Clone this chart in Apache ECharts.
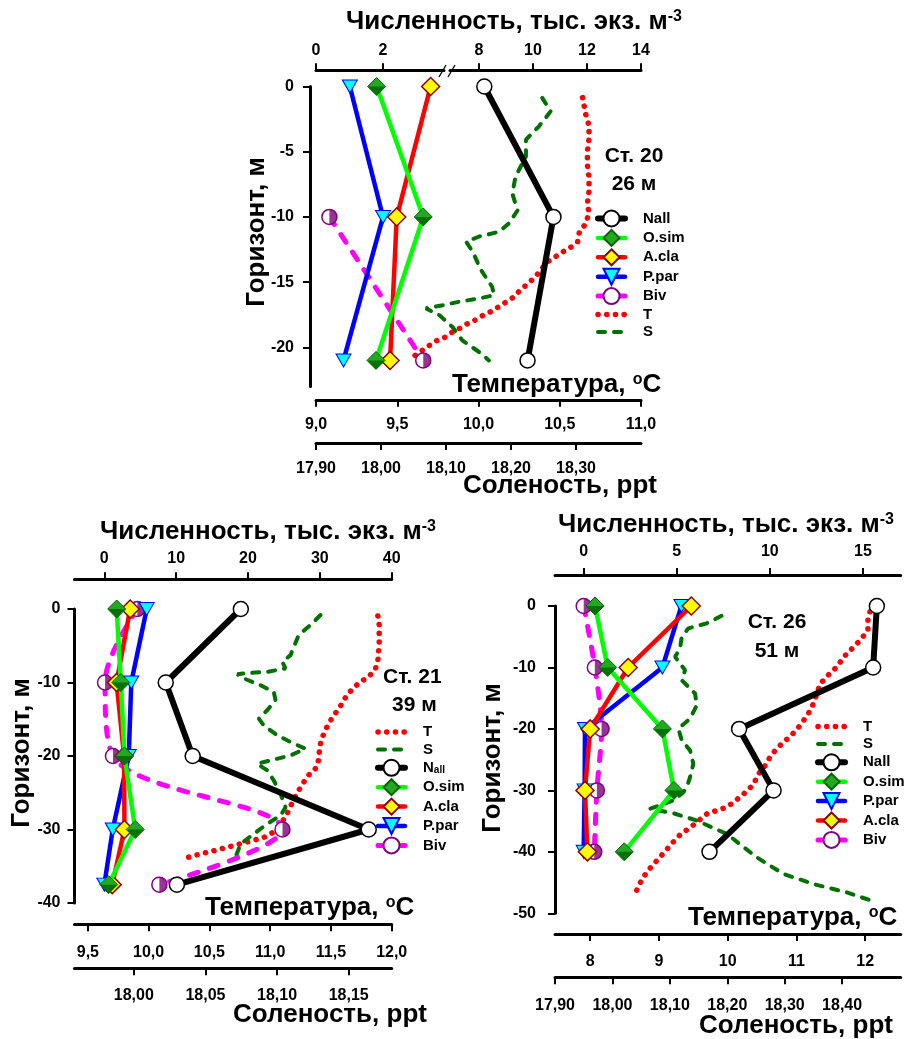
<!DOCTYPE html>
<html><head><meta charset="utf-8">
<script src="https://cdn.jsdelivr.net/npm/echarts@6/dist/echarts.min.js"></script>
<style>html,body{margin:0;padding:0;background:#fff}#c{width:921px;height:1039px}</style>
</head><body><div id="c"></div>
<script>
// ===== Station 20 (26 m) =====
const depth20 = [0, -10, -21];
const nall20 = [8.2, 10.76, 9.8];
const osim20 = [1.81, 3.2, 1.79];
const acla20 = [3.42, 2.41, 2.21];
const ppar20 = [1.01, 2.0, 0.82];
const bivDepth20 = [-10, -21];
const biv20 = [0.4, 3.2];
const tDepth20 = [-0.85,-2.15,-3,-4,-5,-6,-7,-8,-9,-9.7,-10.5,-11.2,-11.9,-12.3,-12.67,-13,-13.4,-13.95,-14.6,-15.15,-15.7,-16.2,-16.6,-17.0,-17.3,-17.6,-17.9,-18.2,-18.5,-18.9,-19.25,-19.5,-20,-20.7];
const temp20 = [10.64,10.66,10.68,10.68,10.67,10.67,10.68,10.68,10.67,10.68,10.66,10.62,10.61,10.57,10.52,10.48,10.43,10.39,10.35,10.30,10.25,10.21,10.16,10.11,10.07,10.02,9.98,9.93,9.89,9.83,9.79,9.74,9.68,9.60];
const sDepth20 = [-0.87,-1.9,-3.05,-4.08,-5.36,-6.9,-8.2,-9.5,-10.48,-11.13,-11.5,-11.9,-12.67,-14.08,-15.36,-16.0,-16.25,-16.5,-16.77,-17.0,-17.54,-18.44,-19.46,-20.36,-21.0];
const sal20 = [18.248,18.261,18.243,18.223,18.223,18.207,18.202,18.21,18.197,18.182,18.151,18.131,18.141,18.154,18.171,18.174,18.151,18.12,18.095,18.069,18.09,18.11,18.125,18.151,18.166];

// ===== Station 21 (39 m) =====
const depth21 = [0, -10, -20, -30, -37.5];
const nall21 = [19.0, 8.55, 12.3, 36.8, 10.1];
const osim21 = [1.72, 2.3, 2.8, 4.3, 0.6];
const acla21 = [3.6, 1.7, 2.75, 2.8, 1.1];
const ppar21 = [5.9, 3.75, 3.4, 1.17, 0];
const biv21 = [4.6, 0.1, 1.2, 24.8, 7.66];
const tDepth21 = [-0.95,-2.18,-3.41,-4.68,-5.83,-7.05,-8.23,-9.24,-9.92,-10.82,-11.73,-13.1,-14.23,-15.38,-16.5,-17.9,-19.2,-20.5,-21.5,-22.6,-23.9,-25.1,-26.4,-27.9,-29.0,-30.4,-31.1,-31.4,-31.7,-32.0,-32.3,-32.6,-32.9,-33.2,-33.5,-33.8];
const temp21 = [11.886,11.897,11.897,11.897,11.891,11.886,11.864,11.809,11.741,11.681,11.631,11.582,11.535,11.488,11.453,11.418,11.406,11.398,11.385,11.316,11.262,11.22,11.18,11.138,11.097,11.023,10.946,10.878,10.81,10.741,10.673,10.604,10.535,10.459,10.385,10.322];
const sDepth21 = [-0.82,-2.18,-3.55,-5.14,-6.28,-7.19,-8.09,-8.55,-8.69,-8.87,-9.45,-10.37,-11.28,-12.41,-13.78,-14.91,-15.83,-17.19,-18.32,-19.0,-19.92,-20.6,-21.05,-21.96,-23.33,-25.14,-26.97,-28.1,-29.24,-30.6,-31.97,-33.8];
const sal21 = [18.1303,18.1233,18.1151,18.1117,18.1094,18.1036,18.1059,18.0931,18.0814,18.0722,18.0768,18.0884,18.0977,18.0989,18.0931,18.0872,18.0907,18.1001,18.1117,18.1198,18.1094,18.0954,18.0861,18.0931,18.0977,18.1024,18.1059,18.1024,18.0931,18.0837,18.0745,18.071];

// ===== Station 26 (51 m) =====
const depth26 = [0, -10, -20, -30, -40];
const nall26 = [15.75, 15.55, 8.35, 10.2, 6.76];
const osim26 = [0.61, 1.29, 4.23, 4.85, 2.18];
const acla26 = [5.78, 2.39, 0.35, 0.07, 0.2];
const ppar26 = [5.25, 4.23, 0.07, 0.05, 0];
const biv26 = [0, 0.6, 0.96, 0.71, 0.57];
const tDepth26 = [-0.93,-2.28,-3.92,-5.55,-6.8,-8.27,-9.9,-11.26,-12.72,-14.2,-15.8,-17.2,-18.7,-20.2,-21.7,-23.1,-24.5,-25.9,-27.6,-29.0,-30.6,-31.9,-32.7,-33.2,-33.8,-34.9,-36.0,-37.2,-38.6,-39.8,-41.3,-42.8,-44.3,-45.9,-47.4];
const temp26 = [12.07,12.04,12.04,11.93,11.82,11.69,11.59,11.46,11.34,11.3,11.25,11.19,11.10,11.0,10.86,10.72,10.62,10.55,10.43,10.38,10.23,10.09,9.99,9.86,9.70,9.58,9.46,9.31,9.19,9.10,8.98,8.86,8.76,8.69,8.63];
const sDepth26 = [-1.6,-2.82,-3.64,-5.0,-6.9,-8.27,-10.44,-12.07,-14.24,-16.15,-18.32,-19.95,-21.86,-23.49,-25.66,-27.85,-29.48,-30.29,-31.65,-33.0,-33.72,-34.91,-37.08,-40.9,-43.6,-45.24,-46.6,-48.24];
const sal26 = [18.19,18.1643,18.1322,18.1207,18.1178,18.1091,18.1265,18.1207,18.1439,18.1469,18.1352,18.1148,18.1207,18.1352,18.1409,18.1352,18.1294,18.1235,18.1061,18.0655,18.1061,18.1469,18.1991,18.2514,18.2977,18.35,18.4082,18.4605];

// ===== tick labels =====
const ticksY20 = [0, -5, -10, -15, -20];
const ticksAbA20 = [0, 2];
const ticksAbB20 = [8, 10, 12, 14];
const ticksT20 = [9, 9.5, 10, 10.5, 11];
const ticksS20 = [17.9, 18.0, 18.1, 18.2, 18.3];
const ticksY21 = [0, -10, -20, -30, -40];
const ticksAb21 = [0, 10, 20, 30, 40];
const ticksT21 = [9.5, 10, 10.5, 11, 11.5, 12];
const ticksS21 = [18.0, 18.05, 18.1, 18.15];
const ticksY26 = [0, -10, -20, -30, -40, -50];
const ticksAb26 = [0, 5, 10, 15];
const ticksT26 = [8, 9, 10, 11, 12];
const ticksS26 = [17.9, 18.0, 18.1, 18.2, 18.3, 18.4];

const FF = 'Liberation Sans';
const TICK_FS = 16;
const comma = d => v => v.toFixed(d).replace('.', ',');
const pts = (xs, ys) => xs.map((x, i) => [x, ys[i]]);

function xAx(grid, pos, offset, min, max, vals, fmt, margin, show = true) {
  return {
    type: 'value', gridIndex: grid, position: pos, offset, min, max, show,
    axisLine: { show: true, onZero: false, lineStyle: { color: '#000', width: 3 } },
    axisTick: { show: true, inside: false, length: 7, customValues: vals, lineStyle: { color: '#000', width: 2 } },
    axisLabel: { show: true, margin, customValues: vals, formatter: fmt, fontFamily: FF, fontWeight: 'bold', fontSize: TICK_FS, color: '#000' },
    splitLine: { show: false }
  };
}
function yAx(grid, min, vals, margin, offset, show = true) {
  return {
    type: 'value', gridIndex: grid, min, max: 0, offset, show,
    axisLine: { show: true, onZero: false, lineStyle: { color: '#000', width: 3 } },
    axisTick: { show: true, inside: false, length: 7, customValues: vals, lineStyle: { color: '#000', width: 2 } },
    axisLabel: { show: true, margin, customValues: vals, fontFamily: FF, fontWeight: 'bold', fontSize: TICK_FS, color: '#000' },
    splitLine: { show: false }
  };
}

const series = [];
const NOFILL = { color: 'rgba(0,0,0,0)', borderWidth: 0 };
function tLine(name, xi, yi, xs, ys) {
  series.push({ name, type: 'line', xAxisIndex: xi, yAxisIndex: yi, data: pts(xs, ys), symbol: 'none', clip: false, z: 2,
    itemStyle: NOFILL,
    lineStyle: { color: '#ff0000', width: 5.5, type: [0.1, 8.6], cap: 'round' } });
}
function sLine(name, xi, yi, xs, ys) {
  series.push({ name, type: 'line', xAxisIndex: xi, yAxisIndex: yi, data: pts(xs, ys), symbol: 'none', clip: false, z: 2,
    itemStyle: NOFILL,
    lineStyle: { color: '#007000', width: 4, type: [7, 9], cap: 'round' } });
}
function nall(name, xi, yi, xs, ys) {
  series.push({ name, type: 'line', xAxisIndex: xi, yAxisIndex: yi, data: pts(xs, ys), clip: false, z: 9,
    symbol: 'circle', symbolSize: 15, lineStyle: { color: '#000', width: 6, cap: 'round' },
    itemStyle: { color: '#fff', borderColor: '#000', borderWidth: 1.5 } });
}
function osim(name, xi, yi, xs, ys) {
  series.push({ name, type: 'line', xAxisIndex: xi, yAxisIndex: yi, data: pts(xs, ys), clip: false, z: 7,
    symbol: 'diamond', symbolSize: 18, lineStyle: { color: '#00ff00', width: 4.5, cap: 'round' },
    itemStyle: { color: '#22a822', borderColor: '#006400', borderWidth: 1 } });
  series.push({ name: '_' + name + xi, type: 'scatter', xAxisIndex: xi, yAxisIndex: yi, data: pts(xs, ys), clip: false, z: 8,
    symbol: 'path://M0,0L20,0L10,10Z', symbolSize: [17, 8.5], symbolOffset: [0, 4.25], silent: true,
    itemStyle: { color: '#006400' } });
}
function acla(name, xi, yi, xs, ys) {
  series.push({ name, type: 'line', xAxisIndex: xi, yAxisIndex: yi, data: pts(xs, ys), clip: false, z: 6,
    symbol: 'diamond', symbolSize: 18, lineStyle: { color: '#ff0000', width: 4.5, cap: 'round' },
    itemStyle: { color: '#ffff00', borderColor: '#8b0000', borderWidth: 1.5 } });
}
function ppar(name, xi, yi, xs, ys) {
  series.push({ name, type: 'line', xAxisIndex: xi, yAxisIndex: yi, data: pts(xs, ys), clip: false, z: 5,
    symbol: 'triangle', symbolRotate: 180, symbolSize: [15, 13], lineStyle: { color: '#0000ff', width: 4.5, cap: 'round' },
    itemStyle: { color: '#00ffff', borderColor: '#0000ff', borderWidth: 1 } });
}
function biv(name, xi, yi, xs, ys, smooth) {
  series.push({ name, type: 'line', xAxisIndex: xi, yAxisIndex: yi, data: pts(xs, ys), clip: false, z: 3, smooth,
    symbol: 'circle', symbolSize: 15, lineStyle: { color: '#ff00ff', width: 5, type: [9, 12], cap: 'round' },
    itemStyle: { color: '#fff', borderColor: '#800080', borderWidth: 1.5 } });
  series.push({ name: '_' + name + xi, type: 'scatter', xAxisIndex: xi, yAxisIndex: yi, data: pts(xs, ys), clip: false, z: 4,
    symbol: 'path://M0,0A10,10,0,0,1,0,20Z', symbolSize: [7.5, 15], symbolOffset: [3.75, 0], silent: true,
    itemStyle: { color: '#800080' } });
}

// Station 20: grid 0 (T,S), grid 1 (0-4 abundance), grid 2 (7-14 abundance)
tLine('T', 0, 0, temp20, tDepth20);
sLine('S', 1, 0, sal20, sDepth20);
biv('Biv', 2, 1, biv20, bivDepth20, false);
ppar('P.par', 2, 1, ppar20, depth20);
acla('A.cla', 2, 1, acla20, depth20);
osim('O.sim', 2, 1, osim20, depth20);
nall('Nall', 3, 2, nall20, depth20);
// Station 21: grid 3
tLine('T', 5, 3, temp21, tDepth21);
sLine('S', 6, 3, sal21, sDepth21);
biv('Biv', 4, 3, biv21, depth21, 0.35);
ppar('P.par', 4, 3, ppar21, depth21);
acla('A.cla', 4, 3, acla21, depth21);
osim('O.sim', 4, 3, osim21, depth21);
nall('N_all', 4, 3, nall21, depth21);
// Station 26: grid 4
tLine('T', 8, 4, temp26, tDepth26);
sLine('S', 9, 4, sal26, sDepth26);
biv('Biv', 7, 4, biv26, depth26, 0.3);
ppar('P.par', 7, 4, ppar26, depth26);
acla('A.cla', 7, 4, acla26, depth26);
osim('O.sim', 7, 4, osim26, depth26);
nall('Nall', 7, 4, nall26, depth26);

const legendText = { fontFamily: FF, fontWeight: 'bold', fontSize: 15, color: '#000',
  rich: { n: { fontFamily: FF, fontWeight: 'bold', fontSize: 15, color: '#000', padding: [0, 0, 0, 13] },
          sub: { fontFamily: FF, fontWeight: 'bold', fontSize: 10, color: '#000', verticalAlign: 'bottom' } } };
function legend(left, top, data) {
  return { data, orient: 'vertical', left, top, padding: 0, itemWidth: 27, itemHeight: 20, itemGap: 1.4,
    selectedMode: false, textStyle: legendText,
    lineStyle: { width: 'inherit', type: 'inherit', cap: 'inherit' },
    formatter: n => n === 'N_all' ? '{n|N}{sub|all}' : '{n|' + n + '}' };
}

function txt(x, y, text, size, align) {
  return { type: 'text', x, y, silent: true,
    style: { text, fontFamily: FF, fontWeight: 'bold', fontSize: size, fill: '#000', align: align || 'left', verticalAlign: 'middle' } };
}
function vtxt(x, y, text) {
  return { type: 'text', x, y, silent: true, rotation: Math.PI / 2,
    style: { text, fontFamily: FF, fontWeight: 'bold', fontSize: 26, fill: '#000', align: 'center', verticalAlign: 'middle' } };
}
function rtxt(x, y, text) {
  return { type: 'text', x, y, silent: true,
    style: { text, align: 'left', verticalAlign: 'middle', fill: '#000',
      rich: { a: { fontFamily: FF, fontWeight: 'bold', fontSize: 26, fill: '#000' },
              s: { fontFamily: FF, fontWeight: 'bold', fontSize: 16, fill: '#000', verticalAlign: 'top' } } } };
}
const TITLE = '{a|Численность, тыс. экз. м}{s|-3}';
const TEMP = '{a|Температура, }{s|o}{a|C}';
const SAL = '{a|Соленость, ppt}';
const graphic = [
  rtxt(346, 22, TITLE), rtxt(452, 385, TEMP), rtxt(463, 486, SAL),
  rtxt(100, 532, TITLE), rtxt(205, 908, TEMP), rtxt(233, 1015, SAL),
  rtxt(558, 525, TITLE), rtxt(688, 918, TEMP), rtxt(699, 1026, SAL),
  vtxt(257, 232, 'Горизонт, м'),
  vtxt(22, 753, 'Горизонт, м'),
  vtxt(493, 758, 'Горизонт, м'),
  txt(634, 156, 'Ст. 20', 21, 'center'),
  txt(634, 184, '26 м', 21, 'center'),
  txt(383, 677, 'Ст. 21', 21),
  txt(392, 705, '39 м', 21),
  txt(777, 622, 'Ст. 26', 21, 'center'),
  txt(777, 651, '51 м', 21, 'center'),
  { type: 'line', silent: true, shape: { x1: 439, y1: 77, x2: 446, y2: 65 }, style: { stroke: '#000', lineWidth: 1.3 } },
  { type: 'line', silent: true, shape: { x1: 448, y1: 77, x2: 455, y2: 65 }, style: { stroke: '#000', lineWidth: 1.3 } }
];

const option = {
  animation: false,
  backgroundColor: '#fff',
  grid: [
    { left: 316, top: 86.5, width: 325, height: 300 },
    { left: 316, top: 86.5, width: 128, height: 300 },
    { left: 450, top: 86.5, width: 191, height: 300 },
    { left: 74.5, top: 609, width: 317.2, height: 294 },
    { left: 555, top: 606, width: 345.7, height: 307.3 }
  ],
  xAxis: [
    xAx(0, 'bottom', 13.3, 9, 11, ticksT20, comma(1), 17),
    xAx(0, 'bottom', 56.6, 17.9, 18.4, ticksS20, comma(2), 17),
    xAx(1, 'top', 16.3, 0, 3.82, ticksAbA20, null, 12),
    xAx(2, 'top', 16.3, 6.93, 14, ticksAbB20, null, 12),
    xAx(3, 'top', 29.7, -4.15, 40, ticksAb21, null, 13),
    xAx(3, 'bottom', 21.3, 9.39, 12, ticksT21, comma(1), 20),
    xAx(3, 'bottom', 65.3, 17.9586, 18.18, ticksS21, comma(2), 19),
    xAx(4, 'top', 31, -1.54, 17.03, ticksAb26, null, 15),
    xAx(4, 'bottom', 20.7, 7.488, 12.517, ticksT26, v => String(Math.round(v)), 20),
    xAx(4, 'bottom', 64, 17.9, 18.502, ticksS26, comma(2), 20)
  ],
  yAxis: [
    yAx(0, -23, ticksY20, 16, 6),
    yAx(1, -23, ticksY20, 16, 0, false),
    yAx(2, -23, ticksY20, 16, 0, false),
    yAx(3, -40, ticksY21, 14, 0),
    yAx(4, -50, ticksY26, 19, 0)
  ],
  legend: [
    legend(595, 209.5, ['Nall', 'O.sim', 'A.cla', 'P.par', 'Biv', 'T', 'S']),
    legend(375, 724, ['T', 'S', 'N_all', 'O.sim', 'A.cla', 'P.par', 'Biv']),
    legend(815, 718.5, ['T', 'S', 'Nall', 'O.sim', 'P.par', 'A.cla', 'Biv'])
  ],
  graphic,
  series
};
const chart = echarts.init(document.getElementById('c'), null, { renderer: 'canvas' });
chart.setOption(option);
</script></body></html>
